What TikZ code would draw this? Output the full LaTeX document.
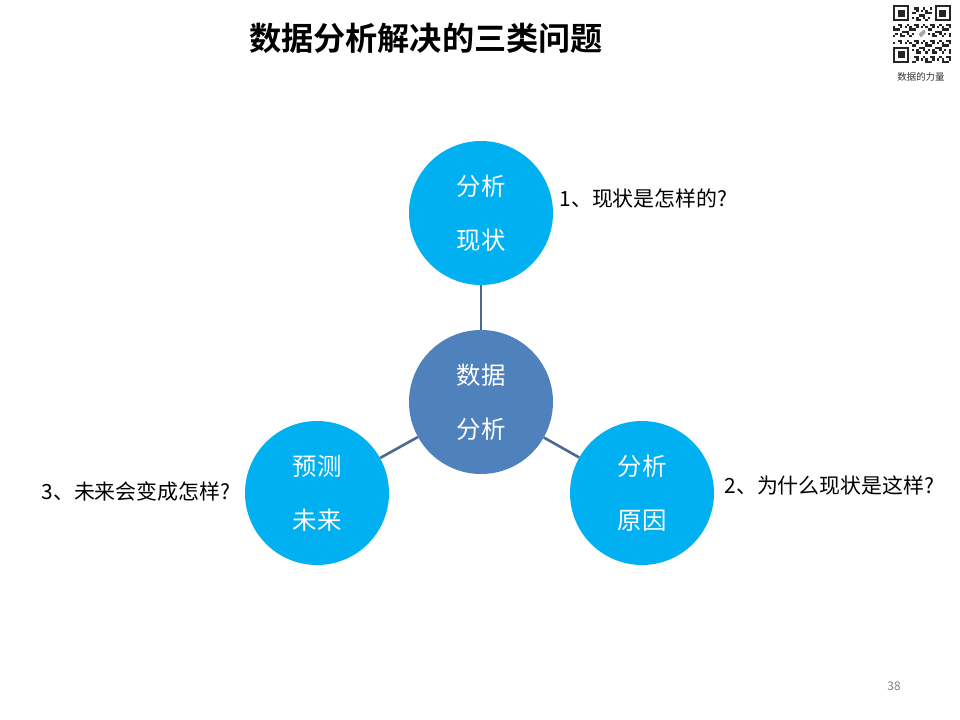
\documentclass[tikz,border=0pt]{standalone}
\usepackage{fontspec}
\setmainfont{Noto Sans CJK SC}
\newfontfamily\cjkb{Noto Sans CJK SC}[BoldFont={* Bold}]
\definecolor{lblue}{HTML}{00B0F0}
\definecolor{cblue}{HTML}{4F81BD}
\definecolor{lnk}{HTML}{4A6A94}
\begin{document}
\begin{tikzpicture}[x=1bp,y=-1bp,
  outer/.style={circle,fill=lblue,minimum size=144bp,inner sep=0pt,text=white,align=center,font=\fontsize{24.5}{54}\selectfont},
  inner/.style={outer,fill=cblue},
  link/.style={draw=lnk,line width=2.6bp},
  qtext/.style={anchor=west,font=\fontsize{21}{24}\selectfont,text=black}]
\useasboundingbox[fill=white] (0,0) rectangle (960,720);
% title
\node[font=\cjkb\bfseries\fontsize{32.3}{36}\selectfont] (title) at (426,38) {数据分析解决的三类问题};
% circles
\node[inner] (c) at (481,402) {数据\\分析};
\node[outer] (t) at (481,213) {分析\\现状};
\node[outer] (l) at (317,493) {预测\\未来};
\node[outer] (r) at (642,493) {分析\\原因};
\draw[link] (c) -- (t);
\draw[link] (c) -- (l);
\draw[link] (c) -- (r);
% questions
\node[qtext] (q1) at (556,199) {1、现状是怎样的?};
\node[qtext] (q2) at (721,486) {2、为什么现状是这样?};
\node[qtext] (q3) at (38,492) {3、未来会变成怎样?};
% page number
\node[font=\fontsize{12}{14}\selectfont,text=black!50] (pg) at (894,686) {38};
% QR code (simplified)
\begin{scope}[shift={(893,5)}]
  \def\m{2.32}
  \foreach \i in {0,...,24}{
    \foreach \j in {0,...,24}{
      \pgfmathtruncatemacro{\v}{mod(\i*\i*7+\j*13+\i*\j*5+\j*\j*3+11,7)}
      \pgfmathtruncatemacro{\skip}{((\i<8)&&(\j<8))||((\i>16)&&(\j<8))||((\i<8)&&(\j>16))||((\i>9)&&(\i<15)&&(\j>9)&&(\j<15))}
      \ifnum\skip=0
        \ifnum\v<3
          \fill[black!85] (\i*\m,\j*\m) rectangle ++(\m,\m);
        \fi
      \fi
    }
  }
  \foreach \ox/\oy in {0/0,18/0,0/18}{
    \fill[black!85] (\ox*\m,\oy*\m) rectangle ++(7*\m,7*\m);
    \fill[white] (\ox*\m+\m,\oy*\m+\m) rectangle ++(5*\m,5*\m);
    \fill[black!85] (\ox*\m+2*\m,\oy*\m+2*\m) rectangle ++(3*\m,3*\m);
  }
  \fill[black!35] (11*\m,12.5*\m) -- (13.5*\m,10.5*\m) -- (14*\m,12*\m) -- (12*\m,14*\m) -- cycle;
\end{scope}
\node[font=\fontsize{9.5}{11}\selectfont,text=black!80] (qrcap) at (921,77) {数据的力量};
\end{tikzpicture}
\end{document}
